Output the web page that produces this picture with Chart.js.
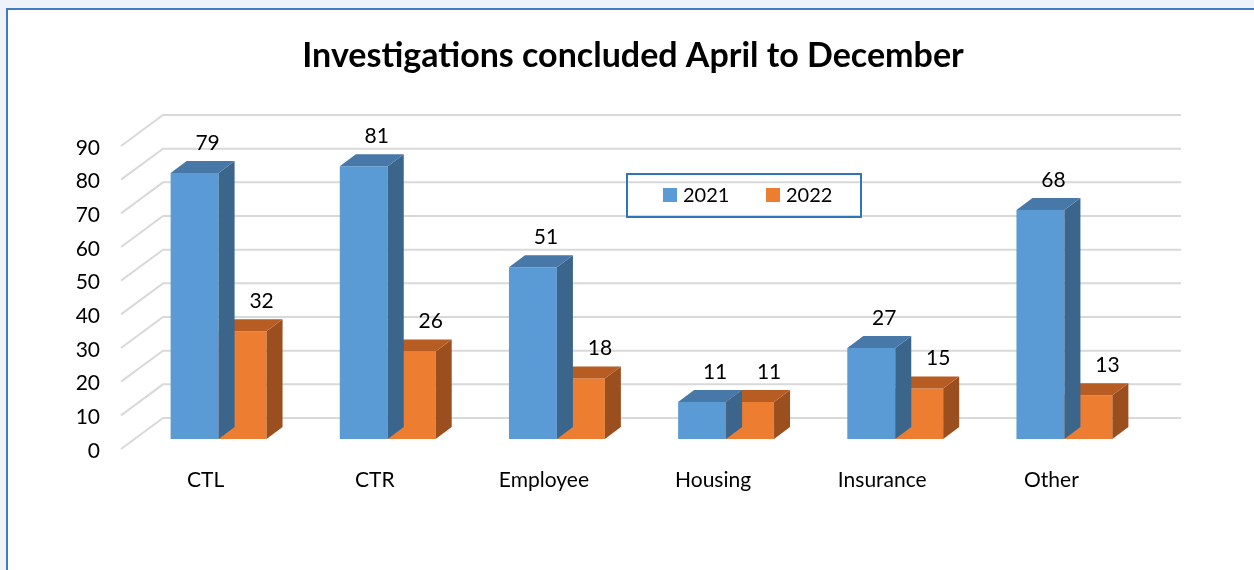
<!DOCTYPE html>
<html>
<head>
<meta charset="utf-8">
<title>Investigations concluded April to December</title>
<script src="https://cdn.jsdelivr.net/npm/chart.js@4.4.0/dist/chart.umd.min.js"></script>
<style>
    html, body {
        margin: 0;
        padding: 0;
        width: 1254px;
        height: 570px;
        overflow: hidden;
        background: #eef3fa;
    }
    .frame {
        position: absolute;
        left: 6px;
        top: 8px;
        width: 1260px;
        height: 580px;
        background: #ffffff;
        border-left: 2px solid #3f7cc0;
        border-top: 2px solid #3f7cc0;
    }
    #chart {
        position: absolute;
        left: 0;
        top: 0;
    }
</style>
</head>
<body>
<div class="frame"></div>
<canvas id="chart" width="1254" height="570"></canvas>
<script>
// Chart data
const categories = ['CTL', 'CTR', 'Employee', 'Housing', 'Insurance', 'Other'];
const seriesNames = ['2021', '2022'];
const values2021 = [79, 81, 51, 11, 27, 68];
const values2022 = [32, 26, 18, 11, 15, 13];
const yTicks = [0, 10, 20, 30, 40, 50, 60, 70, 80, 90];

const chartTitle = 'Investigations concluded April to December';

// Look
const FONT = 'Lato, "Open Sans", "DejaVu Sans", sans-serif';
const frontColors = ['#5b9bd5', '#ed7d31'];
const sideColors = ['#3b658b', '#9c4f1e'];
const topColors = ['#4878a8', '#b75c22'];

// 3D offsets (pixels)
const BAR_DX = 16, BAR_DY = 12;      // depth of a bar
const WALL_DX = 29, WALL_DY = 21;    // bar plane -> back wall
const FRONT_DX = 13, FRONT_DY = 10;  // bar plane -> front edge of floor

// Back wall grid + floor diagonals
const wallPlugin = {
    id: 'wall',
    beforeDatasetsDraw(chart) {
        const ctx = chart.ctx;
        const y = chart.scales.y;
        const area = chart.chartArea;
        ctx.save();
        ctx.strokeStyle = '#d9d9d9';
        ctx.lineWidth = 2;
        yTicks.forEach(v => {
            const py = y.getPixelForValue(v);
            ctx.beginPath();
            ctx.moveTo(area.left - FRONT_DX, py + FRONT_DY);
            ctx.lineTo(area.left + WALL_DX, py - WALL_DY);
            ctx.lineTo(area.right + WALL_DX + 3, py - WALL_DY);
            ctx.stroke();
        });
        ctx.restore();
    }
};

// Side and top faces of each bar
const faces3dPlugin = {
    id: 'faces3d',
    afterDatasetDraw(chart, args) {
        const ctx = chart.ctx;
        const i = args.index;
        const meta = chart.getDatasetMeta(i);
        ctx.save();
        meta.data.forEach(bar => {
            const left = bar.x - bar.width / 2;
            const right = bar.x + bar.width / 2;
            const top = bar.y;
            const base = bar.base;
            // right side
            ctx.fillStyle = sideColors[i];
            ctx.beginPath();
            ctx.moveTo(right, top);
            ctx.lineTo(right + BAR_DX, top - BAR_DY);
            ctx.lineTo(right + BAR_DX, base - BAR_DY);
            ctx.lineTo(right, base);
            ctx.closePath();
            ctx.fill();
            // top
            ctx.fillStyle = topColors[i];
            ctx.beginPath();
            ctx.moveTo(left, top);
            ctx.lineTo(left + BAR_DX, top - BAR_DY);
            ctx.lineTo(right + BAR_DX, top - BAR_DY);
            ctx.lineTo(right, top);
            ctx.closePath();
            ctx.fill();
        });
        ctx.restore();
    }
};

// Value labels, title and boxed legend
const overlayPlugin = {
    id: 'overlay',
    afterDraw(chart) {
        const ctx = chart.ctx;
        ctx.save();

        // value labels
        ctx.fillStyle = '#000';
        ctx.font = '21px ' + FONT;
        ctx.textAlign = 'center';
        ctx.textBaseline = 'middle';
        chart.data.datasets.forEach((ds, i) => {
            chart.getDatasetMeta(i).data.forEach((bar, j) => {
                ctx.fillText(String(ds.data[j]), bar.x + 13 + 6 * i, bar.y - 30);
            });
        });

        // title
        ctx.font = 'bold 34px ' + FONT;
        ctx.fillText(chartTitle, 633, 56);

        // legend
        ctx.strokeStyle = '#2f75b7';
        ctx.lineWidth = 2;
        ctx.strokeRect(627, 174, 234, 43);
        ctx.font = '20px ' + FONT;
        ctx.textAlign = 'left';
        const legendX = [663, 766];
        chart.data.datasets.forEach((ds, i) => {
            ctx.fillStyle = frontColors[i];
            ctx.fillRect(legendX[i], 188, 14, 14);
            ctx.fillStyle = '#000';
            ctx.fillText(ds.label, legendX[i] + 20, 196);
        });

        ctx.restore();
    }
};

new Chart(document.getElementById('chart'), {
    type: 'bar',
    data: {
        labels: categories,
        datasets: [
            {
                label: seriesNames[0],
                data: values2021,
                backgroundColor: frontColors[0],
                borderWidth: 0
            },
            {
                label: seriesNames[1],
                data: values2022,
                backgroundColor: frontColors[1],
                borderWidth: 0
            }
        ]
    },
    options: {
        responsive: false,
        animation: false,
        layout: {
            padding: { left: 0, right: 105, top: 136, bottom: 0 }
        },
        datasets: {
            bar: {
                barPercentage: 1,
                categoryPercentage: 0.567
            }
        },
        plugins: {
            legend: { display: false },
            title: { display: false },
            tooltip: { enabled: false }
        },
        scales: {
            x: {
                grid: { display: false, drawTicks: false },
                border: { display: false },
                ticks: {
                    color: '#000',
                    font: { family: FONT, size: 21 },
                    padding: 29,
                    labelOffset: -13
                },
                afterFit(scale) {
                    scale.height = 131;
                }
            },
            y: {
                min: 0,
                max: 90,
                grid: { display: false, drawTicks: false },
                border: { display: false },
                ticks: {
                    stepSize: 10,
                    color: '#000',
                    font: { family: FONT, size: 21 },
                    padding: 34,
                    labelOffset: 12
                },
                afterFit(scale) {
                    scale.width = 134;
                }
            }
        }
    },
    plugins: [wallPlugin, faces3dPlugin, overlayPlugin]
});
</script>
</body>
</html>
